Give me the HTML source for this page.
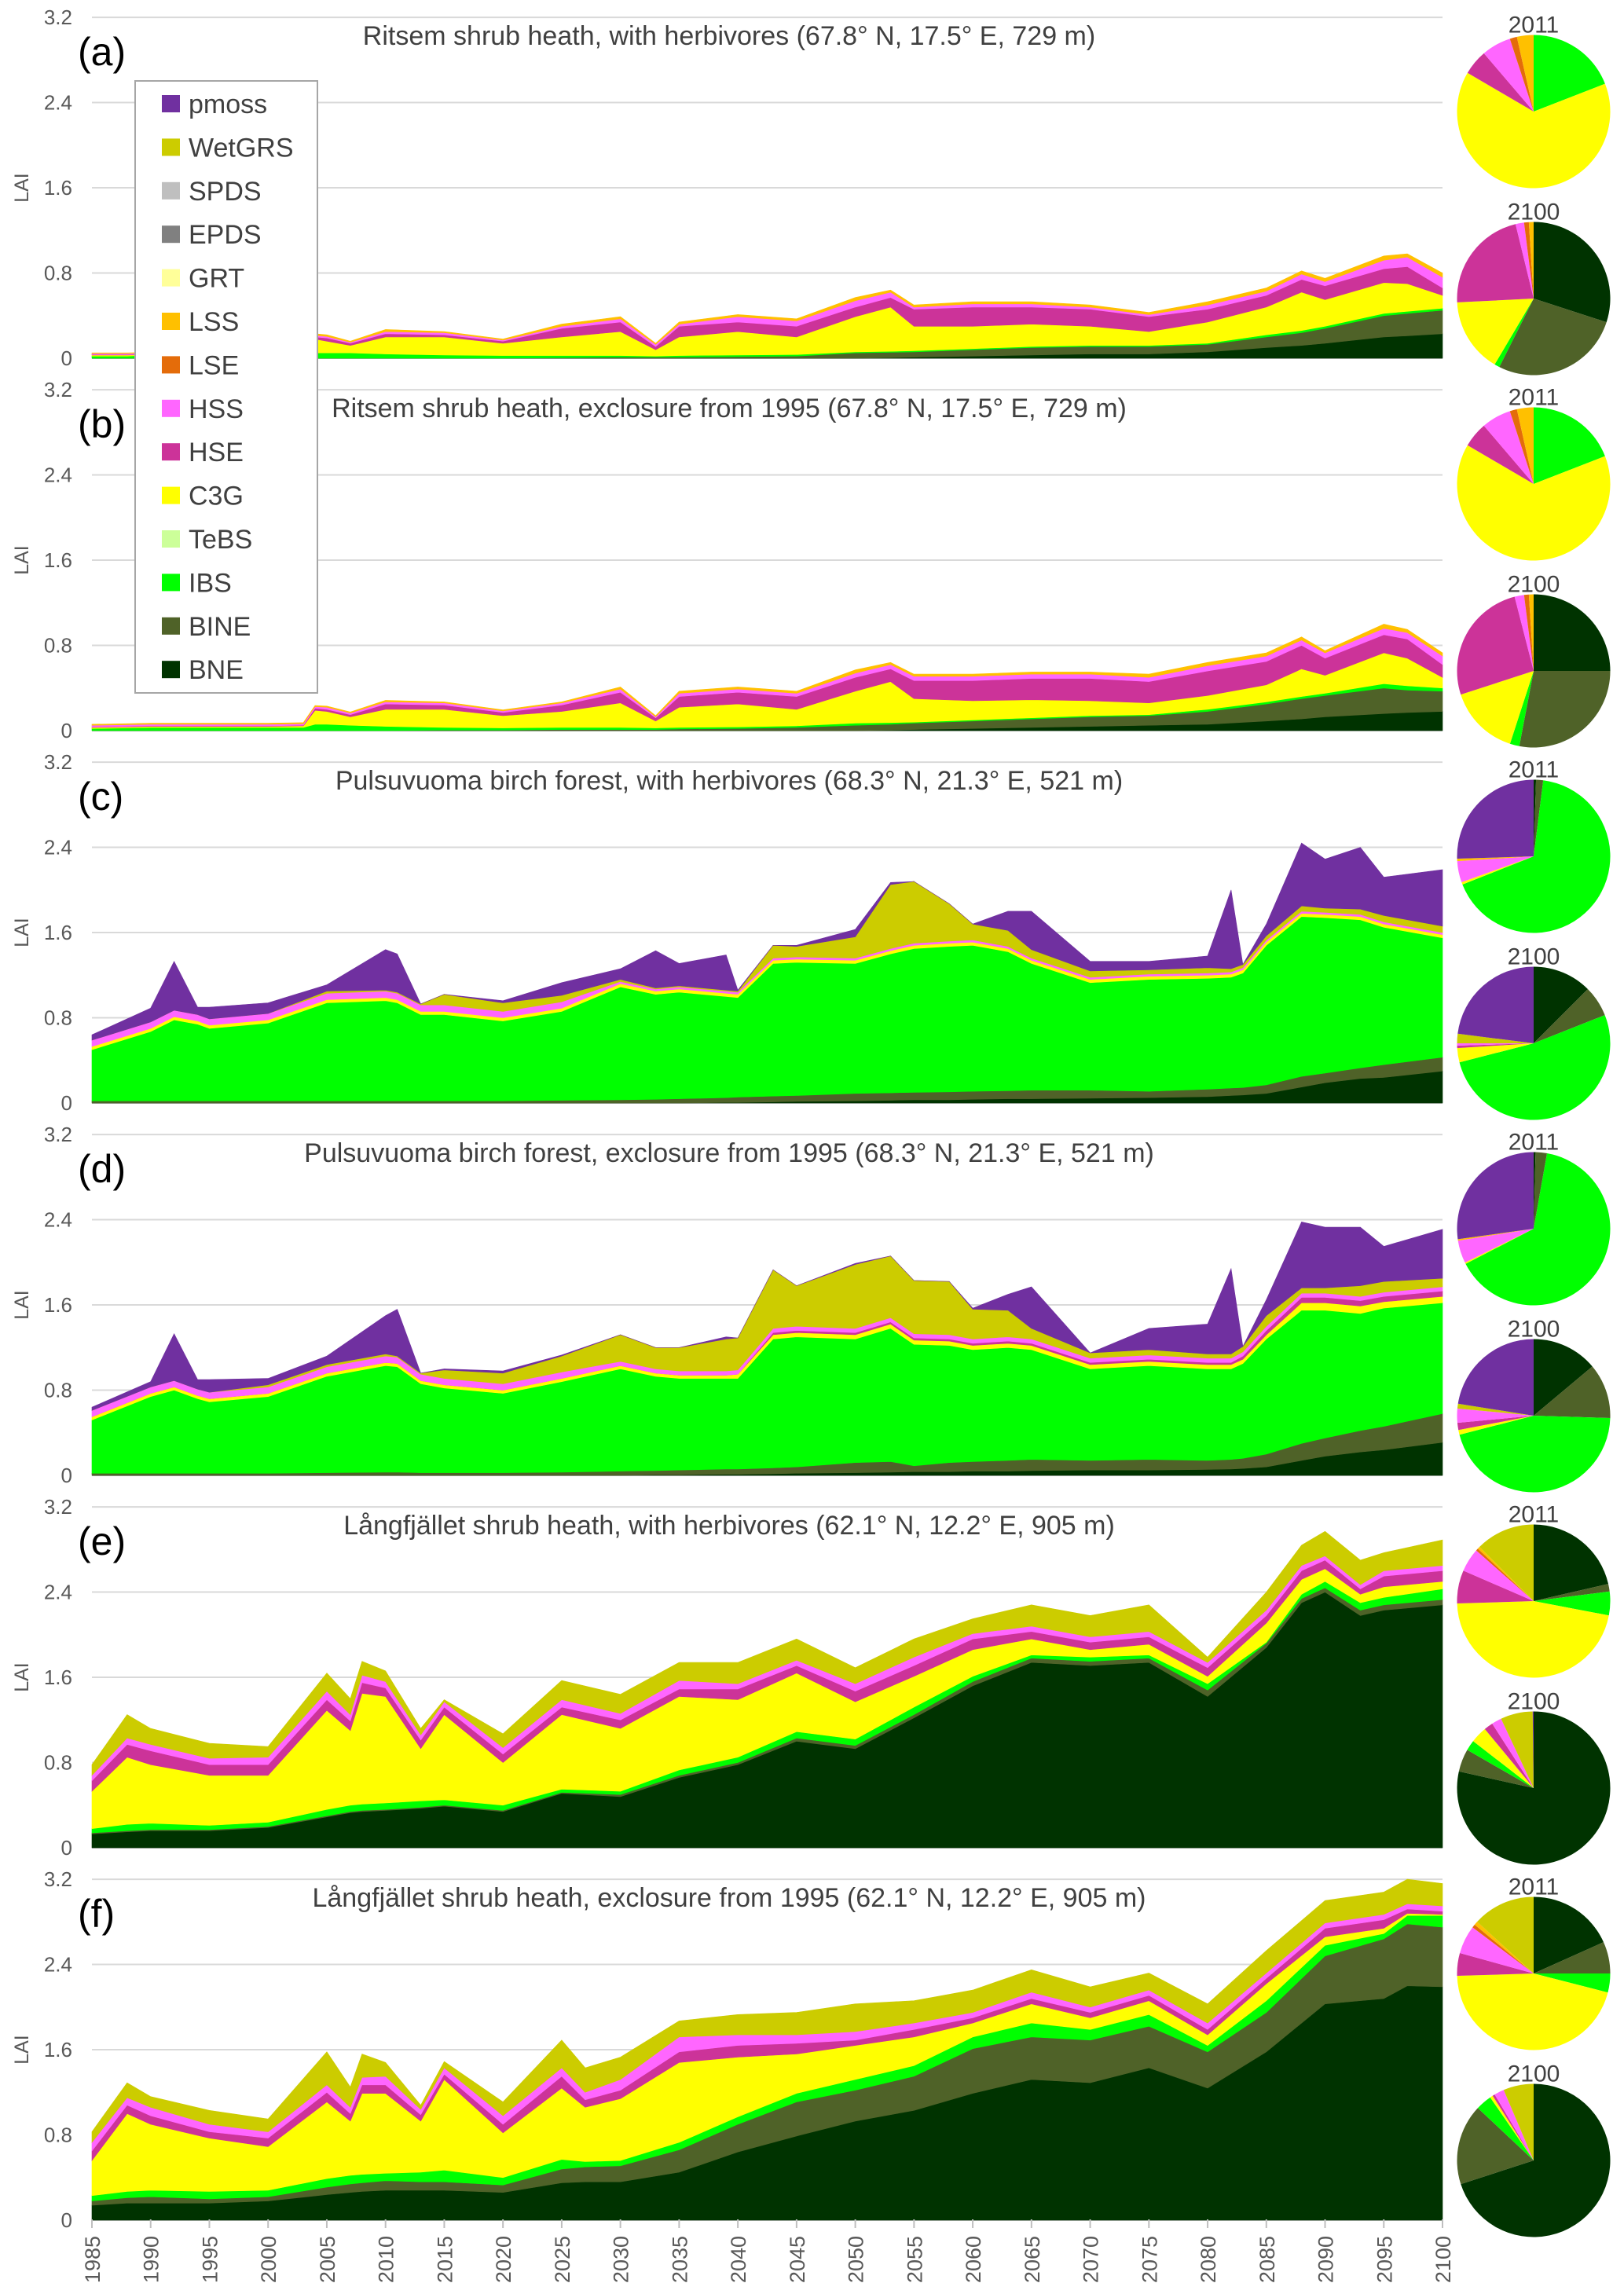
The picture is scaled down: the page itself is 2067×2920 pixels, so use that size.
<!DOCTYPE html>
<html><head><meta charset="utf-8"><title>LAI stacked area charts</title>
<style>
html,body{margin:0;padding:0;background:#fff;}
svg{display:block;font-family:"Liberation Sans",sans-serif;}
</style></head>
<body>
<svg id="chart" width="2067" height="2920" viewBox="0 0 2067 2920" xmlns="http://www.w3.org/2000/svg"></svg>
<script>
// ---------- shared category data ----------
const pftNames = ["pmoss","WetGRS","SPDS","EPDS","GRT","LSS","LSE","HSS","HSE","C3G","TeBS","IBS","BINE","BNE"];
const pftColors = {pmoss:"#7030a0",WetGRS:"#cccc00",SPDS:"#bfbfbf",EPDS:"#808080",GRT:"#ffff99",LSS:"#ffc000",LSE:"#e46c0a",HSS:"#ff66ff",HSE:"#cc3399",C3G:"#ffff00",TeBS:"#ccff99",IBS:"#00ff00",BINE:"#4f6228",BNE:"#003300"};
const yTicks = [0,0.8,1.6,2.4,3.2];
const yTickLabels = ["0","0.8","1.6","2.4","3.2"];
const xTickYears = [1985,1990,1995,2000,2005,2010,2015,2020,2025,2030,2035,2040,2045,2050,2055,2060,2065,2070,2075,2080,2085,2090,2095,2100];
const panelLetters = ["(a)","(b)","(c)","(d)","(e)","(f)"];
const panelTitles = [
"Ritsem shrub heath, with herbivores (67.8° N, 17.5° E, 729 m)",
"Ritsem shrub heath, exclosure from 1995 (67.8° N, 17.5° E, 729 m)",
"Pulsuvuoma birch forest, with herbivores (68.3° N, 21.3° E, 521 m)",
"Pulsuvuoma birch forest, exclosure from 1995 (68.3° N, 21.3° E, 521 m)",
"Långfjället shrub heath, with herbivores (62.1° N, 12.2° E, 905 m)",
"Långfjället shrub heath, exclosure from 1995 (62.1° N, 12.2° E, 905 m)"];

// ---------- panel a / b (cumulative stack tops, LAI) ----------
const abYears = [1985,1988,1990,1995,2000,2003,2004,2005,2007,2010,2015,2020,2025,2030,2033,2035,2040,2045,2050,2053,2055,2060,2065,2070,2075,2080,2085,2088,2090,2095,2097,2100];
const aBNE = [0,0,0,0,0,0,0,0,0,0,0,0,0,0,0,0,0,0,0,0.005,0.01,0.02,0.03,0.04,0.04,0.06,0.10,0.12,0.14,0.20,0.21,0.23];
const aBINE = [0,0,0,0,0,0,0,0,0,0,0,0,0.005,0.01,0.01,0.01,0.015,0.02,0.05,0.055,0.06,0.08,0.10,0.11,0.11,0.13,0.20,0.24,0.28,0.40,0.42,0.45];
const aIBS = [0.02,0.02,0.03,0.03,0.03,0.03,0.05,0.05,0.05,0.04,0.03,0.025,0.025,0.025,0.02,0.025,0.03,0.035,0.06,0.065,0.07,0.09,0.11,0.12,0.12,0.14,0.22,0.26,0.30,0.42,0.44,0.47];
const aC3G = [0.03,0.03,0.035,0.035,0.035,0.035,0.18,0.16,0.12,0.20,0.20,0.14,0.20,0.25,0.08,0.20,0.25,0.20,0.39,0.48,0.30,0.30,0.32,0.30,0.25,0.34,0.48,0.62,0.55,0.71,0.70,0.59];
const aHSE = [0.035,0.035,0.04,0.04,0.04,0.04,0.20,0.19,0.14,0.23,0.22,0.16,0.28,0.34,0.11,0.30,0.34,0.30,0.48,0.57,0.46,0.48,0.48,0.46,0.39,0.46,0.59,0.74,0.68,0.84,0.86,0.66];
const aHSS = [0.045,0.045,0.05,0.05,0.05,0.05,0.215,0.205,0.15,0.25,0.24,0.17,0.30,0.37,0.13,0.32,0.39,0.35,0.54,0.62,0.48,0.51,0.51,0.48,0.41,0.50,0.63,0.79,0.72,0.92,0.95,0.76];
const aLSS = [0.05,0.05,0.055,0.055,0.055,0.055,0.23,0.22,0.16,0.27,0.25,0.18,0.32,0.39,0.14,0.34,0.41,0.37,0.57,0.64,0.50,0.53,0.53,0.50,0.43,0.53,0.66,0.82,0.75,0.96,0.98,0.80];
const bBNE = [0,0,0,0,0,0,0,0,0,0,0,0,0,0,0,0,0,0,0,0.005,0.01,0.02,0.03,0.04,0.05,0.06,0.09,0.11,0.13,0.16,0.17,0.18];
const bBINE = [0,0,0,0,0,0,0,0,0,0,0.005,0.005,0.01,0.01,0.01,0.015,0.02,0.03,0.05,0.06,0.07,0.09,0.11,0.13,0.14,0.18,0.25,0.30,0.33,0.40,0.38,0.37];
const bIBS = [0.02,0.025,0.03,0.03,0.03,0.03,0.06,0.06,0.05,0.04,0.03,0.025,0.03,0.03,0.025,0.03,0.035,0.045,0.07,0.075,0.08,0.10,0.12,0.14,0.15,0.20,0.27,0.32,0.35,0.44,0.42,0.40];
const bC3G = [0.03,0.035,0.04,0.04,0.04,0.045,0.19,0.18,0.13,0.20,0.20,0.14,0.18,0.26,0.09,0.22,0.25,0.20,0.37,0.46,0.30,0.28,0.29,0.28,0.26,0.33,0.43,0.58,0.52,0.73,0.68,0.50];
const bHSE = [0.035,0.04,0.045,0.045,0.045,0.05,0.21,0.20,0.15,0.25,0.24,0.17,0.24,0.36,0.12,0.32,0.36,0.32,0.50,0.58,0.47,0.47,0.49,0.49,0.46,0.56,0.65,0.80,0.68,0.90,0.86,0.62];
const bHSS = [0.05,0.055,0.06,0.06,0.06,0.065,0.225,0.22,0.165,0.27,0.26,0.185,0.26,0.39,0.13,0.35,0.39,0.35,0.54,0.62,0.51,0.51,0.53,0.53,0.50,0.61,0.70,0.85,0.73,0.96,0.92,0.70];
const bLSS = [0.06,0.065,0.07,0.07,0.07,0.075,0.235,0.23,0.175,0.285,0.27,0.195,0.27,0.41,0.14,0.37,0.41,0.37,0.57,0.64,0.53,0.53,0.55,0.55,0.53,0.64,0.73,0.88,0.75,1.0,0.95,0.73];

// ---------- panel c / d ----------
const cdYears = [1985,1990,1992,1994,1995,2000,2005,2010,2011,2013,2015,2020,2025,2030,2033,2035,2039,2040,2043,2045,2050,2053,2055,2058,2060,2063,2065,2070,2075,2080,2082,2083,2085,2088,2090,2093,2095,2100];
const cBNE = [0,0,0,0,0,0,0,0,0,0,0,0,0,0,0,0,0.005,0.005,0.01,0.015,0.02,0.025,0.03,0.03,0.035,0.04,0.04,0.045,0.05,0.06,0.07,0.075,0.09,0.15,0.19,0.23,0.24,0.30];
const cBINE = [0.02,0.02,0.02,0.02,0.02,0.02,0.02,0.02,0.02,0.02,0.02,0.02,0.025,0.03,0.035,0.04,0.05,0.055,0.065,0.07,0.09,0.095,0.10,0.105,0.11,0.115,0.12,0.12,0.11,0.13,0.14,0.145,0.17,0.25,0.28,0.33,0.36,0.43];
const cIBS = [0.50,0.67,0.78,0.74,0.70,0.75,0.94,0.96,0.94,0.83,0.83,0.77,0.86,1.09,1.02,1.04,1.00,0.99,1.31,1.32,1.31,1.40,1.45,1.47,1.48,1.42,1.31,1.13,1.16,1.17,1.18,1.22,1.48,1.75,1.74,1.72,1.65,1.55];
const cC3G = [0.53,0.70,0.81,0.77,0.73,0.78,0.97,0.99,0.97,0.86,0.86,0.80,0.89,1.12,1.05,1.07,1.03,1.02,1.34,1.35,1.34,1.43,1.48,1.50,1.51,1.45,1.34,1.16,1.19,1.20,1.21,1.25,1.51,1.78,1.77,1.75,1.68,1.58];
const cHSS = [0.59,0.76,0.87,0.83,0.79,0.84,1.03,1.05,1.03,0.92,0.92,0.86,0.95,1.14,1.07,1.09,1.05,1.04,1.36,1.37,1.36,1.45,1.50,1.52,1.53,1.47,1.36,1.18,1.21,1.22,1.23,1.27,1.53,1.80,1.79,1.77,1.70,1.60];
const cWet = [0.59,0.76,0.87,0.83,0.79,0.84,1.05,1.06,1.04,0.93,1.02,0.94,1.01,1.16,1.08,1.10,1.06,1.05,1.48,1.47,1.56,2.05,2.08,1.87,1.68,1.62,1.44,1.24,1.25,1.27,1.26,1.30,1.57,1.85,1.83,1.82,1.76,1.66];
const cMoss = [0.64,0.89,1.33,0.90,0.90,0.94,1.11,1.44,1.40,0.91,1.01,0.96,1.13,1.26,1.43,1.31,1.39,1.06,1.45,1.48,1.63,2.07,2.08,1.87,1.68,1.80,1.80,1.33,1.33,1.38,2.00,1.30,1.68,2.44,2.29,2.40,2.12,2.19];
const dBNE = [0,0,0,0,0,0,0,0,0,0,0,0,0,0,0.005,0.005,0.01,0.01,0.015,0.02,0.025,0.03,0.035,0.035,0.04,0.04,0.045,0.05,0.05,0.055,0.06,0.065,0.08,0.14,0.18,0.22,0.24,0.31];
const dBINE = [0.02,0.02,0.02,0.02,0.02,0.02,0.025,0.03,0.03,0.025,0.025,0.025,0.03,0.04,0.045,0.05,0.06,0.06,0.07,0.08,0.12,0.13,0.09,0.12,0.13,0.14,0.15,0.14,0.15,0.14,0.15,0.16,0.20,0.30,0.35,0.42,0.46,0.58];
const dIBS = [0.52,0.74,0.80,0.72,0.69,0.74,0.93,1.03,1.02,0.86,0.82,0.77,0.88,1.00,0.93,0.91,0.91,0.91,1.28,1.30,1.28,1.38,1.23,1.22,1.18,1.20,1.18,1.00,1.03,1.00,1.00,1.05,1.28,1.55,1.55,1.52,1.57,1.62];
const dC3G = [0.55,0.77,0.83,0.75,0.72,0.77,0.96,1.06,1.05,0.89,0.85,0.80,0.91,1.03,0.96,0.94,0.94,0.95,1.32,1.34,1.32,1.42,1.27,1.26,1.22,1.24,1.22,1.04,1.07,1.04,1.04,1.09,1.32,1.62,1.62,1.59,1.63,1.68];
const dHSE = [0.55,0.77,0.83,0.75,0.72,0.77,0.96,1.06,1.05,0.89,0.85,0.80,0.91,1.03,0.96,0.94,0.94,0.95,1.34,1.36,1.34,1.44,1.29,1.28,1.24,1.26,1.24,1.06,1.09,1.06,1.06,1.12,1.36,1.67,1.67,1.64,1.68,1.73];
const dHSS = [0.61,0.83,0.89,0.81,0.78,0.83,1.02,1.12,1.11,0.95,0.91,0.86,0.97,1.07,1.00,0.98,0.98,0.99,1.38,1.40,1.38,1.48,1.33,1.32,1.28,1.30,1.28,1.10,1.13,1.10,1.10,1.16,1.40,1.71,1.71,1.68,1.72,1.77];
const dWet = [0.61,0.83,0.89,0.81,0.78,0.85,1.04,1.14,1.12,0.96,0.99,0.96,1.12,1.32,1.20,1.20,1.28,1.29,1.93,1.78,1.98,2.06,1.83,1.82,1.56,1.55,1.38,1.15,1.18,1.14,1.14,1.21,1.50,1.76,1.76,1.78,1.82,1.85];
const dMoss = [0.64,0.88,1.33,0.90,0.90,0.91,1.12,1.50,1.56,0.90,1.00,0.98,1.13,1.30,1.20,1.20,1.30,1.29,1.93,1.78,1.99,2.06,1.83,1.82,1.57,1.70,1.77,1.15,1.38,1.42,1.94,1.21,1.65,2.38,2.33,2.33,2.15,2.31];

// ---------- panel e / f ----------
const eYears = [1985,1988,1990,1995,2000,2005,2007,2008,2010,2013,2015,2020,2025,2030,2035,2040,2045,2050,2055,2060,2065,2070,2075,2080,2085,2088,2090,2093,2095,2100];
const eBNE = [0.13,0.15,0.16,0.16,0.19,0.29,0.33,0.34,0.35,0.37,0.39,0.34,0.51,0.48,0.66,0.78,1.00,0.93,1.22,1.52,1.74,1.71,1.74,1.42,1.88,2.30,2.40,2.18,2.23,2.28];
const eBINE = [0.14,0.16,0.17,0.17,0.20,0.30,0.34,0.35,0.36,0.38,0.40,0.35,0.52,0.50,0.68,0.80,1.03,0.96,1.25,1.56,1.78,1.75,1.78,1.48,1.92,2.34,2.44,2.23,2.28,2.33];
const eIBS = [0.18,0.22,0.23,0.21,0.24,0.36,0.40,0.41,0.42,0.44,0.45,0.40,0.55,0.53,0.73,0.85,1.09,1.02,1.32,1.61,1.81,1.79,1.81,1.54,1.93,2.38,2.50,2.30,2.35,2.43];
const eC3G = [0.53,0.85,0.78,0.68,0.68,1.29,1.10,1.45,1.42,0.93,1.25,0.80,1.25,1.12,1.42,1.39,1.64,1.37,1.61,1.86,1.96,1.86,1.91,1.61,2.11,2.52,2.62,2.38,2.45,2.50];
const eHSE = [0.63,0.97,0.91,0.78,0.78,1.39,1.19,1.55,1.50,1.01,1.32,0.88,1.32,1.20,1.49,1.49,1.71,1.47,1.71,1.96,2.03,1.93,1.98,1.69,2.18,2.60,2.70,2.43,2.55,2.60];
const eHSS = [0.68,1.03,0.97,0.84,0.85,1.47,1.25,1.62,1.56,1.06,1.37,0.94,1.39,1.26,1.57,1.54,1.76,1.54,1.79,2.01,2.08,1.98,2.03,1.74,2.23,2.65,2.74,2.47,2.60,2.65];
const eWet = [0.78,1.25,1.12,0.98,0.95,1.64,1.40,1.75,1.66,1.12,1.39,1.07,1.57,1.44,1.74,1.74,1.96,1.69,1.96,2.15,2.28,2.18,2.28,1.79,2.40,2.84,2.97,2.70,2.77,2.89];
const fYears = [1985,1988,1990,1995,2000,2005,2007,2008,2010,2013,2015,2020,2025,2027,2030,2035,2040,2045,2050,2055,2060,2065,2070,2075,2080,2085,2090,2095,2097,2100];
const fBNE = [0.14,0.16,0.16,0.16,0.18,0.24,0.26,0.27,0.28,0.28,0.28,0.26,0.35,0.36,0.36,0.45,0.64,0.79,0.93,1.03,1.19,1.32,1.29,1.43,1.24,1.58,2.03,2.08,2.20,2.19];
const fBINE = [0.18,0.21,0.22,0.20,0.22,0.31,0.34,0.35,0.37,0.36,0.36,0.33,0.48,0.50,0.51,0.66,0.90,1.11,1.22,1.35,1.61,1.72,1.69,1.82,1.58,1.95,2.48,2.64,2.78,2.75];
const fIBS = [0.23,0.27,0.28,0.27,0.28,0.39,0.42,0.43,0.44,0.45,0.47,0.40,0.57,0.55,0.56,0.73,0.97,1.19,1.32,1.45,1.72,1.85,1.79,1.93,1.64,2.06,2.58,2.69,2.86,2.86];
const fC3G = [0.56,1.00,0.90,0.77,0.69,1.11,0.93,1.19,1.19,0.93,1.32,0.82,1.24,1.06,1.14,1.48,1.53,1.56,1.64,1.72,1.85,2.03,1.90,2.06,1.74,2.22,2.66,2.74,2.88,2.87];
const fHSE = [0.65,1.08,0.98,0.83,0.77,1.20,1.00,1.27,1.27,0.99,1.37,0.90,1.35,1.13,1.22,1.58,1.64,1.66,1.69,1.79,1.90,2.08,1.95,2.11,1.79,2.27,2.74,2.82,2.92,2.90];
const fHSS = [0.73,1.15,1.06,0.90,0.83,1.27,1.06,1.34,1.35,1.04,1.43,0.98,1.43,1.20,1.32,1.72,1.74,1.74,1.77,1.85,1.95,2.14,2.00,2.16,1.85,2.32,2.79,2.87,2.97,2.95];
const fWet = [0.83,1.29,1.16,1.03,0.95,1.58,1.25,1.56,1.48,1.08,1.49,1.11,1.69,1.43,1.53,1.87,1.93,1.95,2.03,2.06,2.16,2.35,2.19,2.32,2.03,2.53,3.00,3.08,3.20,3.16];

// ---------- pie data (fractions per PFT) ----------
const pieOrder = ["BNE","BINE","IBS","C3G","HSE","HSS","LSE","LSS","WetGRS","pmoss"];
const pieA2011 = [0,0,0.19,0.64,0.053,0.062,0.015,0.035,0,0];
const pieA2100 = [0.30,0.274,0.011,0.157,0.22,0.018,0.01,0.01,0,0];
const pieB2011 = [0,0,0.19,0.64,0.053,0.062,0.015,0.035,0,0];
const pieB2100 = [0.25,0.28,0.02,0.15,0.26,0.02,0.01,0.01,0,0];
const pieC2011 = [0.005,0.015,0.67,0.005,0,0.045,0,0.005,0,0.255];
const pieC2100 = [0.125,0.065,0.52,0.03,0.005,0.005,0,0,0.02,0.23];
const pieD2011 = [0.004,0.024,0.646,0.003,0,0.048,0,0.003,0,0.272];
const pieD2100 = [0.139,0.116,0.455,0.01,0.015,0.03,0,0,0.01,0.225];
const pieE2011 = [0.214,0.016,0.05,0.465,0.07,0.05,0.005,0.005,0.125,0];
const pieE2100 = [0.785,0.048,0.022,0.035,0.019,0.021,0,0,0.068,0.002];
const pieF2011 = [0.183,0.067,0.04,0.455,0.048,0.06,0.007,0.008,0.132,0];
const pieF2100 = [0.70,0.17,0.034,0.006,0.005,0.021,0,0,0.064,0];

// ---------- layout ----------
const NS = "http://www.w3.org/2000/svg";
const svg = document.getElementById('chart');
const X0 = 117, X1 = 1836, PANEL_H = 474, ZERO0 = 456, PX_PER_LAI = 135.6;
function xScale(yr){ return X0 + (yr - 1985) * (X1 - X0) / 115; }
function yScale(panel, v){ return ZERO0 + panel * PANEL_H - v * PX_PER_LAI; }
function mk(tag, attrs, parent){ const e = document.createElementNS(NS, tag); for (const k in attrs) e.setAttribute(k, attrs[k]); (parent || svg).appendChild(e); return e; }

const panels = [
 {years: abYears, layers: [["BNE",aBNE],["BINE",aBINE],["IBS",aIBS],["C3G",aC3G],["HSE",aHSE],["HSS",aHSS],["LSS",aLSS]], pies:[pieA2011,pieA2100]},
 {years: abYears, layers: [["BNE",bBNE],["BINE",bBINE],["IBS",bIBS],["C3G",bC3G],["HSE",bHSE],["HSS",bHSS],["LSS",bLSS]], pies:[pieB2011,pieB2100]},
 {years: cdYears, layers: [["BNE",cBNE],["BINE",cBINE],["IBS",cIBS],["C3G",cC3G],["HSS",cHSS],["WetGRS",cWet],["pmoss",cMoss]], pies:[pieC2011,pieC2100]},
 {years: cdYears, layers: [["BNE",dBNE],["BINE",dBINE],["IBS",dIBS],["C3G",dC3G],["HSE",dHSE],["HSS",dHSS],["WetGRS",dWet],["pmoss",dMoss]], pies:[pieD2011,pieD2100]},
 {years: eYears, layers: [["BNE",eBNE],["BINE",eBINE],["IBS",eIBS],["C3G",eC3G],["HSE",eHSE],["HSS",eHSS],["WetGRS",eWet]], pies:[pieE2011,pieE2100]},
 {years: fYears, layers: [["BNE",fBNE],["BINE",fBINE],["IBS",fIBS],["C3G",fC3G],["HSE",fHSE],["HSS",fHSS],["WetGRS",fWet]], pies:[pieF2011,pieF2100]}
];

panels.forEach((p, k) => {
  const g = mk('g', {});
  
  
  yTicks.forEach((t, i) => {
    const y = yScale(k, t);
    const ln = mk('line', {x1: X0, x2: X1, y1: y, y2: y, stroke: i === 0 ? '#bfbfbf' : '#d9d9d9', 'stroke-width': 2}, g);
    
    
    const tl = mk('text', {x: 92, y: y + 9, 'text-anchor': 'end', 'font-size': 26, fill: '#595959'}, g);
    
    
    tl.textContent = yTickLabels[i];
  });
  const lai = mk('text', {x: 0, y: 0, 'font-size': 25, fill: '#595959', 'text-anchor': 'middle', transform: 'translate(36,' + yScale(k, 1.6) + ') rotate(-90)'}, g);
  
  
  lai.textContent = 'LAI';
  let prev = p.years.map(() => 0);
  p.layers.forEach(([name, arr]) => {
    const top = arr.map((v, i) => Math.max(v, prev[i]));
    let d = 'M';
    p.years.forEach((yr, i) => { d += (i ? ' L' : '') + xScale(yr).toFixed(1) + ',' + yScale(k, top[i]).toFixed(1); });
    for (let i = p.years.length - 1; i >= 0; i--) d += ' L' + xScale(p.years[i]).toFixed(1) + ',' + yScale(k, prev[i]).toFixed(1);
    d += ' Z';
    const path = mk('path', {d: d, fill: pftColors[name], stroke: pftColors[name], 'stroke-width': 0.6}, g);
    
    
    prev = top;
  });
  const lt = mk('text', {x: 99, y: 83 + k * PANEL_H, 'font-size': 50, fill: '#000'}, g);
  
  
  lt.textContent = panelLetters[k];
  const tt = mk('text', {x: 928, y: 57 + k * PANEL_H, 'font-size': 34, fill: '#404040', 'text-anchor': 'middle'}, g);
  
  
  tt.textContent = panelTitles[k];
  const pieYears = ["2011", "2100"];
  p.pies.forEach((fr, j) => {
    const cx = 1952, cy = 142 + j * 238 + k * PANEL_H, r = 97.5;
    const pl = mk('text', {x: cx, y: cy - r - 3, 'font-size': 30, fill: '#404040', 'text-anchor': 'middle'}, g);
    
    
    pl.textContent = pieYears[j];
    const total = fr.reduce((a, b) => a + b, 0);
    let acc = 0;
    fr.forEach((f, i) => {
      if (f <= 0) return;
      const a0 = acc / total * 2 * Math.PI; acc += f; const a1 = acc / total * 2 * Math.PI;
      const x0 = cx + r * Math.sin(a0), y0 = cy - r * Math.cos(a0), x1 = cx + r * Math.sin(a1), y1 = cy - r * Math.cos(a1);
      const large = (a1 - a0) > Math.PI ? 1 : 0;
      const sl = mk('path', {d: 'M' + cx + ',' + cy + ' L' + x0.toFixed(2) + ',' + y0.toFixed(2) + ' A' + r + ',' + r + ' 0 ' + large + ' 1 ' + x1.toFixed(2) + ',' + y1.toFixed(2) + ' Z', fill: pftColors[pieOrder[i]]}, g);
      
      
    });
  });
});

const xAxis = mk('g', {});


xTickYears.forEach(yr => {
  const x = xScale(yr);
  const t = mk('line', {x1: x, x2: x, y1: 2825, y2: 2836, stroke: '#bfbfbf', 'stroke-width': 2}, xAxis);
  
  
  const lb = mk('text', {x: 0, y: 0, 'font-size': 27, fill: '#595959', 'text-anchor': 'end', transform: 'translate(' + (x + 10) + ',2846) rotate(-90)'}, xAxis);
  
  
  lb.textContent = String(yr);
});

const leg = mk('g', {});


const box = mk('rect', {x: 172, y: 103, width: 232, height: 779, fill: '#fff', stroke: '#a6a6a6', 'stroke-width': 2}, leg);


pftNames.forEach((n, i) => {
  const cy = 132 + i * 55.4;
  const e = mk('g', {}, leg);
  
  
  mk('rect', {x: 206, y: cy - 11, width: 23, height: 22, fill: pftColors[n]}, e);
  const tx = mk('text', {x: 240, y: cy + 12, 'font-size': 34, fill: '#404040'}, e);
  tx.textContent = n;
});
</script>
</body></html>
